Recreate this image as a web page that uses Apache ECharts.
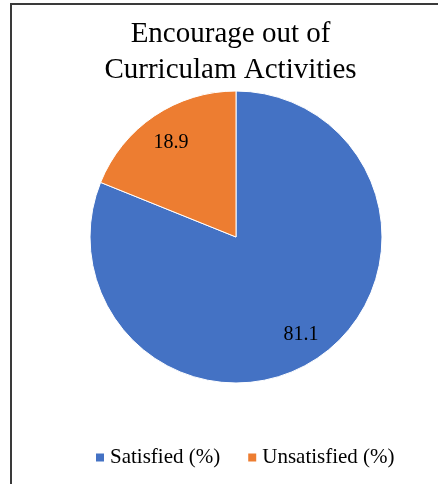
<!DOCTYPE html>
<html>
<head>
<meta charset="utf-8">
<script src="https://cdn.jsdelivr.net/npm/echarts@6/dist/echarts.min.js"></script>
<style>
  html, body { margin: 0; padding: 0; background: #fff; }
  #frame { position: absolute; left: 10px; top: 3px; width: 500px; height: 500px;
           border-left: 2px solid #3a3a3a; border-top: 2px solid #3a3a3a; }
  #chart { position: absolute; left: 11px; top: 4px; width: 439px; height: 480px; }
</style>
</head>
<body>
<div id="frame"></div>
<div id="chart"></div>
<script>
// 数据
var categories = ['Satisfied (%)', 'Unsatisfied (%)'];
var values = [81.1, 18.9];
var colors = ['#4472C4', '#ED7D31'];

var pieData = categories.map(function (name, i) {
    return { name: name, value: values[i], itemStyle: { color: colors[i] } };
});

var chart = echarts.init(document.getElementById('chart'));

var font = 'Liberation Serif';

var option = {
    animation: false,
    title: {
        text: 'Encourage out of\nCurriculam Activities',
        left: 'center',
        top: 12,
        padding: 0,
        textStyle: { fontFamily: font, fontSize: 29, fontWeight: 'normal', color: '#000', lineHeight: 36 }
    },
    legend: {
        data: categories,
        left: 78,
        top: 438,
        itemWidth: 10,
        itemHeight: 10,
        itemGap: 26,
        icon: 'rect',
        textStyle: { fontFamily: font, fontSize: 21, color: '#000' }
    },
    series: [
        {
            // 饼图本体
            type: 'pie',
            center: [225, 233],
            radius: 146,
            startAngle: 90,
            silent: true,
            label: { show: false },
            labelLine: { show: false },
            itemStyle: { borderColor: '#fff', borderWidth: 1 },
            data: pieData
        },
        {
            // 透明层，只用来放数据标签（把标签推到约 3/4 半径处）
            type: 'pie',
            center: [225, 235],
            radius: 226,
            startAngle: 90,
            silent: true,
            itemStyle: { color: 'rgba(0,0,0,0)' },
            label: {
                show: true,
                position: 'inside',
                formatter: '{c}',
                fontFamily: font,
                fontSize: 20,
                color: '#000'
            },
            labelLine: { show: false },
            data: categories.map(function (name, i) { return { name: name, value: values[i] }; })
        }
    ]
};

chart.setOption(option);
</script>
</body>
</html>
